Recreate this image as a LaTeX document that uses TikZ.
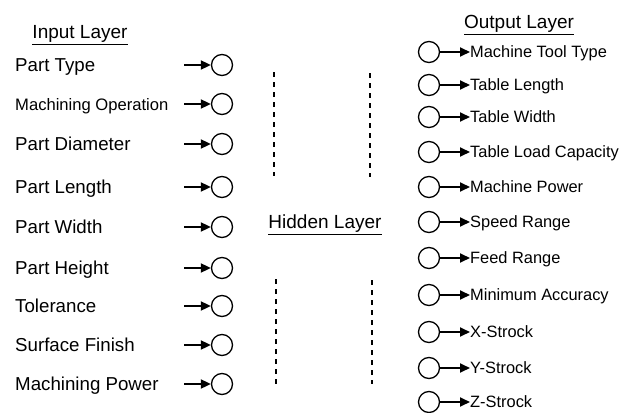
\documentclass[tikz,border=0pt]{standalone}
\usepackage{fontspec}
\setmainfont{Liberation Sans}
\usetikzlibrary{arrows.meta}

\begin{document}
\begin{tikzpicture}[x=1pt,y=-1pt,
  neuron/.style={draw,circle,line width=1.3pt,minimum size=21pt,inner sep=0pt},
  feed/.style={line width=1.8pt,-{Triangle[length=10pt,width=9pt]}},
  hidden/.style={line width=1.8pt,dash pattern=on 5pt off 5pt},
  inlabel/.style={anchor=base west,inner sep=0pt,yshift=-6.7pt},
  outlabel/.style={anchor=base west,inner sep=0pt,yshift=-5.9pt,font=\fontsize{16.4}{18}\selectfont},
  layer/.style={anchor=base,inner sep=0pt,yshift=-6.8pt,font=\fontsize{19}{21}\selectfont}]
\useasboundingbox (0,0) rectangle (634,412);

%Layer titles
\node[layer] (IL) at (80,32) {\underline{Input Layer}};
\node[layer] (HL) at (325,222) {\underline{Hidden Layer}};
\node[layer] (OL) at (519,22) {\underline{Output Layer}};

%Input neurons
\foreach \i/\y/\s/\txt in {1/65/18.7/Part Type,2/104/16.6/Machining Operation,
    3/144/18.7/Part Diameter,4/187/18.7/Part Length,5/227/18.7/Part Width,
    6/268/18.7/Part Height,7/306/18.7/Tolerance,8/345/18.7/Surface Finish,
    9/384/18.7/Machining Power}{
  \node[inlabel,font=\fontsize{\s}{20}\selectfont] (in\i) at (15,\y) {\txt};
  \node[neuron] (x\i) at (222,\y) {};
  \coordinate (s\i) at (184,\y);
  \draw[feed] (s\i) -- (x\i);
}

%Hidden layer
\draw[hidden] (274,72) -- (274,176);
\draw[hidden] (370,73) -- (370,177);
\draw[hidden] (276,279) -- (276,384);
\draw[hidden] (372,280) -- (372,384);

%Output neurons
\foreach \i/\y/\txt in {1/52/Machine Tool Type,2/85/Table Length,3/117/Table Width,
    4/152/Table Load Capacity,5/187/Machine Power,6/222/Speed Range,
    7/258/Feed Range,8/295/Minimum Accuracy,9/332/X-Strock,
    10/368/Y-Strock,11/402/Z-Strock}{
  \node[neuron] (o\i) at (429,\y) {};
  \node[outlabel] (out\i) at (470,\y) {\txt};
  \draw[feed] (o\i) -- (o\i -| out\i.west);
}

\end{tikzpicture}
\end{document}
